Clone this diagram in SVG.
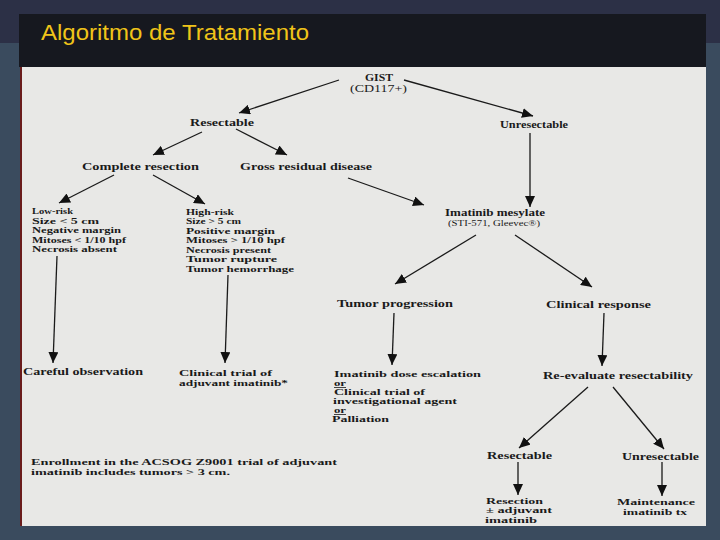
<svg xmlns="http://www.w3.org/2000/svg" width="720" height="540" viewBox="0 0 720 540">
<defs>
<marker id="ah" markerUnits="userSpaceOnUse" markerWidth="12" markerHeight="10" viewBox="0 0 12 10" refX="11" refY="5" orient="auto">
<path d="M0,0 L11,5 L0,10 Z" fill="#111"/>
</marker>
<style>
.t{font-family:"Liberation Serif","Times New Roman",serif;font-weight:bold;font-size:9.5px;fill:#1a1a1a}
.s{font-size:8px}
.h{font-size:8.8px}
.c line{stroke:#1a1a1a;stroke-width:1.3;marker-end:url(#ah)}
.u{text-decoration:underline}
</style>
</defs>
<rect x="0" y="0" width="720" height="540" fill="#3a4b5e"/>
<rect x="0" y="0" width="720" height="43" fill="#2c3046"/>
<rect x="19" y="14" width="687" height="53" fill="#16181f"/>
<text x="41" y="40" font-family="'Liberation Sans',Arial,sans-serif" font-size="22" fill="#f0c419" textLength="268" lengthAdjust="spacingAndGlyphs">Algoritmo de Tratamiento</text>
<rect x="20" y="67" width="686" height="459" fill="#e8e8e6"/>
<rect x="20" y="67" width="2" height="459" fill="#6a1c1c"/>

<g id="connectors" class="c">
<line x1="339" y1="80" x2="239" y2="113"/>
<line x1="404" y1="80" x2="533" y2="116"/>
<line x1="202" y1="132" x2="153" y2="155"/>
<line x1="236" y1="129" x2="287" y2="155"/>
<line x1="114" y1="175" x2="59" y2="203"/>
<line x1="153" y1="175" x2="205" y2="204"/>
<line x1="348" y1="178" x2="424" y2="205"/>
<line x1="530" y1="133" x2="530" y2="207"/>
<line x1="476" y1="235" x2="395" y2="284"/>
<line x1="515" y1="235" x2="592" y2="287"/>
<line x1="57" y1="256" x2="53" y2="363"/>
<line x1="228" y1="275" x2="225" y2="363"/>
<line x1="394" y1="313" x2="392" y2="365"/>
<line x1="604" y1="313" x2="602" y2="366"/>
<line x1="588" y1="387" x2="519" y2="448"/>
<line x1="613" y1="387" x2="664" y2="449"/>
<line x1="518" y1="462" x2="518" y2="495"/>
<line x1="662" y1="462" x2="662" y2="496"/>
</g>

<g id="gist" class="t">
<text x="365" y="81" textLength="28" lengthAdjust="spacingAndGlyphs">GIST</text>
<text x="350" y="92" textLength="57" lengthAdjust="spacingAndGlyphs" font-weight="normal">(CD117+)</text>
</g>
<g id="resectable" class="t"><text x="190" y="126" textLength="64" lengthAdjust="spacingAndGlyphs">Resectable</text></g>
<g id="unresectable" class="t"><text x="500" y="128" textLength="68" lengthAdjust="spacingAndGlyphs">Unresectable</text></g>
<g id="complete" class="t"><text x="82" y="170" textLength="117" lengthAdjust="spacingAndGlyphs">Complete resection</text></g>
<g id="gross" class="t"><text x="240" y="170" textLength="132" lengthAdjust="spacingAndGlyphs">Gross residual disease</text></g>
<g id="lowrisk" class="t s">
<text x="32" y="214" class="h" textLength="41" lengthAdjust="spacingAndGlyphs">Low-risk</text>
<text x="32" y="223.5" textLength="67" lengthAdjust="spacingAndGlyphs">Size &lt; 5 cm</text>
<text x="32" y="233" textLength="89" lengthAdjust="spacingAndGlyphs">Negative margin</text>
<text x="32" y="242.5" textLength="94" lengthAdjust="spacingAndGlyphs">Mitoses &lt; 1/10 hpf</text>
<text x="32" y="252" textLength="85" lengthAdjust="spacingAndGlyphs">Necrosis absent</text>
</g>
<g id="highrisk" class="t s">
<text x="186" y="214.5" class="h" textLength="48" lengthAdjust="spacingAndGlyphs">High-risk</text>
<text x="186" y="224" textLength="55" lengthAdjust="spacingAndGlyphs">Size &gt; 5 cm</text>
<text x="186" y="233.5" textLength="89" lengthAdjust="spacingAndGlyphs">Positive margin</text>
<text x="186" y="243" textLength="99" lengthAdjust="spacingAndGlyphs">Mitoses &gt; 1/10 hpf</text>
<text x="186" y="252.5" textLength="85" lengthAdjust="spacingAndGlyphs">Necrosis present</text>
<text x="186" y="262" textLength="91" lengthAdjust="spacingAndGlyphs">Tumor rupture</text>
<text x="186" y="271.5" textLength="108" lengthAdjust="spacingAndGlyphs">Tumor hemorrhage</text>
</g>
<g id="imatinib" class="t">
<text x="445" y="216" textLength="100" lengthAdjust="spacingAndGlyphs">Imatinib mesylate</text>
<text x="448" y="226" textLength="92" lengthAdjust="spacingAndGlyphs" font-weight="normal" font-size="8.5">(STI-571, Gleevec®)</text>
</g>
<g id="progression" class="t"><text x="337" y="307" textLength="116" lengthAdjust="spacingAndGlyphs">Tumor progression</text></g>
<g id="response" class="t"><text x="546" y="308" textLength="105" lengthAdjust="spacingAndGlyphs">Clinical response</text></g>
<g id="careful" class="t"><text x="23" y="375" textLength="120" lengthAdjust="spacingAndGlyphs">Careful observation</text></g>
<g id="trial" class="t s">
<text x="179" y="376" textLength="93" lengthAdjust="spacingAndGlyphs">Clinical trial of</text>
<text x="179" y="385.5" textLength="109" lengthAdjust="spacingAndGlyphs">adjuvant imatinib*</text>
</g>
<g id="escalation" class="t s">
<text x="334" y="377" textLength="147" lengthAdjust="spacingAndGlyphs">Imatinib dose escalation</text>
<text x="334" y="386" class="u" textLength="12" lengthAdjust="spacingAndGlyphs">or</text>
<text x="334" y="395" textLength="91" lengthAdjust="spacingAndGlyphs">Clinical trial of</text>
<text x="333" y="404" textLength="124" lengthAdjust="spacingAndGlyphs">investigational agent</text>
<text x="334" y="413" class="u" textLength="12" lengthAdjust="spacingAndGlyphs">or</text>
<text x="332" y="422" textLength="57" lengthAdjust="spacingAndGlyphs">Palliation</text>
</g>
<g id="reevaluate" class="t"><text x="543" y="379" textLength="150" lengthAdjust="spacingAndGlyphs">Re-evaluate resectability</text></g>
<g id="resectable2" class="t"><text x="487" y="459" textLength="65" lengthAdjust="spacingAndGlyphs">Resectable</text></g>
<g id="unresectable2" class="t"><text x="622" y="460" textLength="77" lengthAdjust="spacingAndGlyphs">Unresectable</text></g>
<g id="resection" class="t s">
<text x="486" y="503.5" textLength="57" lengthAdjust="spacingAndGlyphs">Resection</text>
<text x="486" y="513" textLength="66" lengthAdjust="spacingAndGlyphs">± adjuvant</text>
<text x="485" y="522.5" textLength="52" lengthAdjust="spacingAndGlyphs">imatinib</text>
</g>
<g id="maintenance" class="t s">
<text x="617" y="505" textLength="78" lengthAdjust="spacingAndGlyphs">Maintenance</text>
<text x="623" y="514.5" textLength="64" lengthAdjust="spacingAndGlyphs">imatinib tx</text>
</g>
<g id="note" class="t s">
<text x="31" y="465" textLength="306" lengthAdjust="spacingAndGlyphs">Enrollment in the ACSOG Z9001 trial of adjuvant</text>
<text x="31" y="474.5" textLength="199" lengthAdjust="spacingAndGlyphs">imatinib includes tumors &gt; 3 cm.</text>
</g>
</svg>
